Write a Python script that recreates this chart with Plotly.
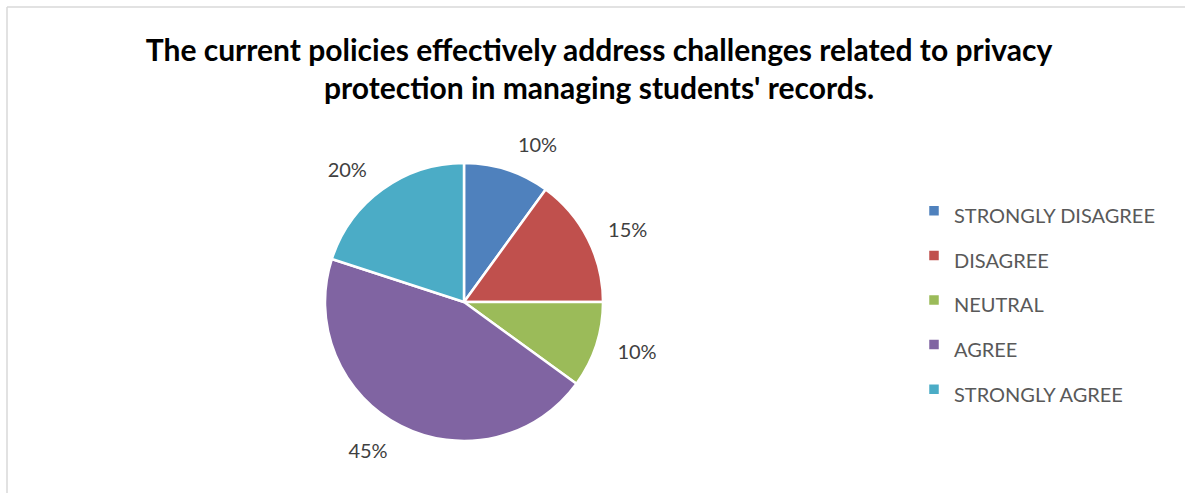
import plotly.graph_objects as go

# Survey responses (share of respondents, %)
categories = ["STRONGLY DISAGREE", "DISAGREE", "NEUTRAL", "AGREE", "STRONGLY AGREE"]
values = [10, 15, 10, 45, 20]
colors = ["#4F81BD", "#C0504D", "#9BBB59", "#8064A2", "#4BACC6"]

title_lines = [
    "The current policies effectively address challenges related to privacy",
    "protection in managing students' records.",
]

W, H = 1185, 493
FONT = "Lato"

# Pie geometry in pixels
cx, cy, r = 464, 302, 139
label_r = r + 16  # radius of the ring that carries the percentage labels


def domain_for(radius):
    return dict(
        x=[(cx - radius) / W, (cx + radius) / W],
        y=[(H - cy - radius) / H, (H - cy + radius) / H],
    )


# Legend labels rendered at a smaller size than the legend font so the
# rows keep the wide spacing.
legend_labels = [f"<span style='font-size:20px'>{c}</span>" for c in categories]

fig = go.Figure()

# Percentage labels, placed outside a slightly larger transparent ring
fig.add_trace(
    go.Pie(
        labels=legend_labels,
        values=values,
        sort=False,
        direction="clockwise",
        rotation=0,
        marker=dict(colors=["rgba(0,0,0,0)"] * len(values), line=dict(width=0)),
        textinfo="percent",
        textposition="outside",
        outsidetextfont=dict(family=FONT, size=20, color="#404040"),
        domain=domain_for(label_r),
        showlegend=False,
        hoverinfo="skip",
    )
)

# The pie itself
fig.add_trace(
    go.Pie(
        labels=legend_labels,
        values=values,
        sort=False,
        direction="clockwise",
        rotation=0,
        marker=dict(colors=colors, line=dict(color="white", width=2.5)),
        textinfo="none",
        domain=domain_for(r),
        hoverinfo="label+percent",
    )
)

title_text = "<br>".join(f"<span style='font-size:30px'>{t}</span>" for t in title_lines)

fig.update_layout(
    width=W,
    height=H,
    margin=dict(l=0, r=0, t=0, b=0),
    paper_bgcolor="white",
    plot_bgcolor="white",
    title=dict(
        text=f"<b>{title_text}</b>",
        x=599 / W,
        xanchor="center",
        y=1 - 61 / H,
        yanchor="top",
        font=dict(family=FONT, size=29, color="#000000"),
    ),
    legend=dict(
        x=914 / W,
        xanchor="left",
        y=0.5 - (300 - H / 2) / H,
        yanchor="middle",
        font=dict(family=FONT, size=32, color="#595959"),
        bgcolor="rgba(0,0,0,0)",
    ),
    shapes=[
        dict(type="line", xref="paper", yref="paper",
             x0=7 / W, x1=1.0, y0=1 - 7 / H, y1=1 - 7 / H,
             line=dict(color="#D9D9D9", width=1.5)),
        dict(type="line", xref="paper", yref="paper",
             x0=7 / W, x1=7 / W, y0=0, y1=1 - 7 / H,
             line=dict(color="#D9D9D9", width=1.5)),
    ],
)

fig.write_html("out.html")
